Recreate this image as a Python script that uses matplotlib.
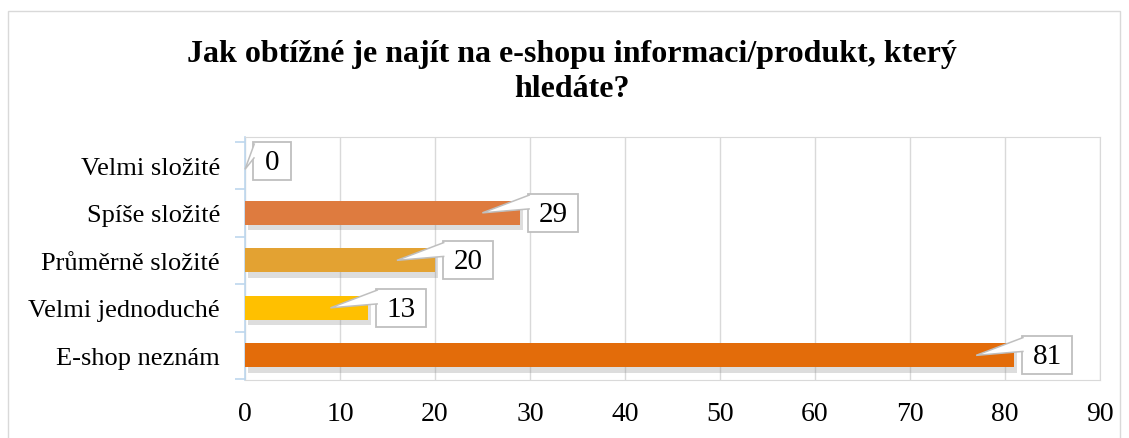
import matplotlib.pyplot as plt
import matplotlib.patheffects as pe
from matplotlib.patches import Rectangle, Polygon
from matplotlib.transforms import IdentityTransform

# chart data
categories = ['Velmi složité', 'Spíše složité', 'Průměrně složité',
              'Velmi jednoduché', 'E-shop neznám']
values = [0, 29, 20, 13, 81]
colors = ['#F4B183', '#DE7B3F', '#E3A232', '#FFC000', '#E36C0A']
x_ticks = [0, 10, 20, 30, 40, 50, 60, 70, 80, 90]
title = 'Jak obtížné je najít na e-shopu informaci/produkt, který\nhledáte?'

plt.rcParams['font.family'] = ['Liberation Serif', 'DejaVu Serif']

fig = plt.figure(figsize=(11.29, 4.39), dpi=100)
ax = fig.add_axes([0.217, 0.132, 0.757, 0.554])

# outer chart frame
fig.patches.append(Rectangle((0.007, -0.05), 0.985, 1.022, transform=fig.transFigure,
                             fill=False, ec='#D9D9D9', lw=1.0))

ypos = list(range(len(categories)))
bars = ax.barh(ypos, values, height=0.5, color=colors, zorder=3)
for b in bars:
    b.set_path_effects([pe.SimplePatchShadow(offset=(2, -4), shadow_rgbFace='#909090', alpha=0.3),
                        pe.Normal()])

ax.set_xlim(0, 90)
ax.set_ylim(4.52, -0.6)
ax.set_xticks(x_ticks)
ax.set_yticks(ypos)
ax.set_yticklabels(categories)
ax.set_yticks([i + 0.5 for i in range(-1, len(categories))], minor=True)
ax.tick_params(axis='y', which='major', length=0, pad=18, labelsize=19)
ax.tick_params(axis='y', which='minor', length=7, color='#BDD7EE', width=1.2)
ax.tick_params(axis='x', length=0, pad=15, labelsize=20)
ax.grid(axis='x', color='#D9D9D9', lw=1.0, zorder=0)
for s in ['top', 'right', 'bottom']:
    ax.spines[s].set_color('#D9D9D9')
ax.spines['left'].set_color('#BDD7EE')
ax.spines['left'].set_linewidth(1.2)

# callout labels (drawn in pixel space next to each bar end)
ident = IdentityTransform()
for y, v in zip(ypos, values):
    xe, yc = ax.transData.transform((v, y))
    w = 38 if v < 10 else 50
    h = 38
    left = xe + 8
    if v >= 4:
        tip = (xe - 38, yc)
        top = yc + h / 2
    else:
        tip = (xe, yc - 4)
        top = yc + h / 2 + 4
    box = Rectangle((left, top - h), w, h, transform=ident, fc='white', ec='#BFBFBF',
                    lw=1.3, zorder=5)
    fig.add_artist(box)
    wedge = Polygon([(left + 1.5, top - 1), tip, (left + 1.5, top - 15)], closed=False,
                    transform=ident, fc='white', ec='#BFBFBF', lw=1.1, zorder=6)
    fig.add_artist(wedge)
    fig.text(left + w / 2, top - h / 2 - 1, str(v), transform=ident, ha='center', va='center',
             fontsize=21, zorder=7)

fig.text(0.507, 0.91, title, ha='center', va='top', fontsize=23, fontweight='bold',
         linespacing=1.3)

fig.savefig('out.png', dpi=100)
